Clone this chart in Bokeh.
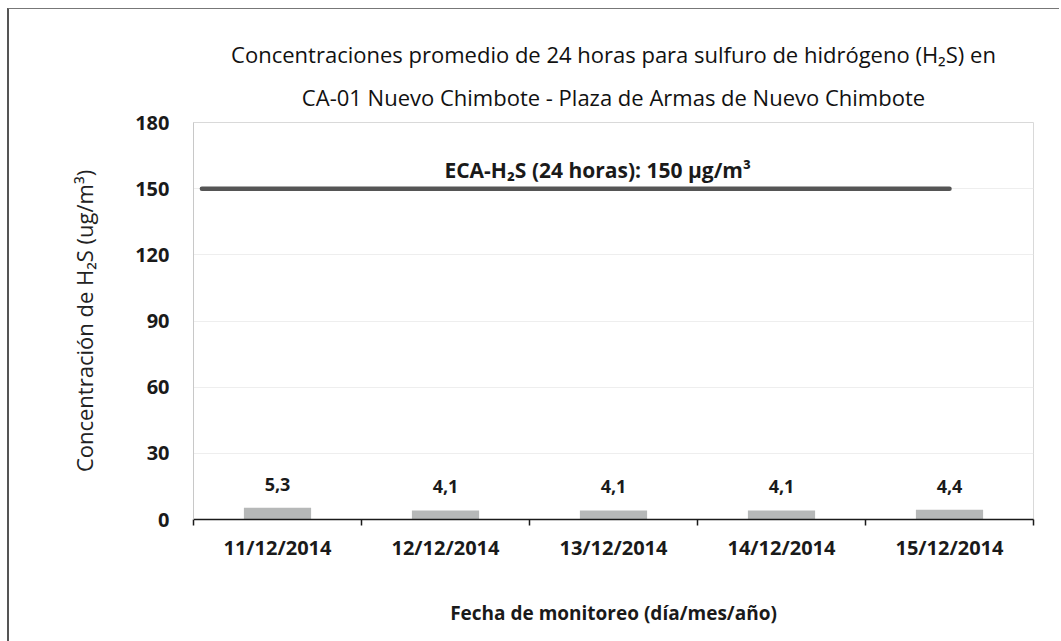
from bokeh.plotting import figure
from bokeh.models import (Range1d, LinearAxis, FixedTicker, Title, ColumnDataSource,
                          LabelSet, Label)
from bokeh.core.properties import value
from bokeh.embed import file_html
from bokeh.resources import INLINE

fechas = ["11/12/2014", "12/12/2014", "13/12/2014", "14/12/2014", "15/12/2014"]
concentracion = [5.3, 4.1, 4.1, 4.1, 4.4]
etiquetas = ["5,3", "4,1", "4,1", "4,1", "4,4"]
eca_valor = 150
eca_texto = "ECA-H₂S (24 horas): 150 µg/m³"
y_ticks = [0, 30, 60, 90, 120, 150, 180]
titulo = ["Concentraciones promedio de 24 horas para sulfuro de hidrógeno (H₂S) en",
          "CA-01 Nuevo Chimbote - Plaza de Armas de Nuevo Chimbote"]

FONT = "Open Sans"
n = len(fechas)
centros = [i + 0.5 for i in range(n)]
limites = list(range(n + 1))

p = figure(width=1052, height=633, x_range=Range1d(0, n), y_range=Range1d(0, y_ticks[-1]),
           output_backend="svg", toolbar_location=None, x_axis_location=None,
           y_axis_location=None,
           min_border_left=184, min_border_right=28, min_border_top=113, min_border_bottom=123)
p.styles = {"margin-left": "7px", "margin-top": "8px",
            "border-left": "2px solid #555555", "border-top": "1px solid #777777"}
p.background_fill_color = "white"
p.outline_line_color = "#d9d9d9"

# y axis
yax = LinearAxis(ticker=FixedTicker(ticks=y_ticks))
yax.axis_label = "Concentración de H₂S (ug/m³)"
yax.axis_label_text_font = FONT
yax.axis_label_text_font_size = "22px"
yax.axis_label_text_font_style = "normal"
yax.axis_label_text_color = "#222222"
yax.axis_label_standoff = 33
yax.major_label_text_font = FONT
yax.major_label_text_font_size = "20px"
yax.major_label_text_font_style = "bold"
yax.major_label_text_color = "#1a1a1a"
yax.major_label_standoff = 18
yax.axis_line_color = "#c8c8c8"
yax.major_tick_line_color = None
yax.minor_tick_line_color = None
p.add_layout(yax, "left")

# x axis: labels at category centres, ticks at boundaries
xax = LinearAxis(ticker=FixedTicker(ticks=centros, minor_ticks=limites),
                 major_label_overrides={c: f for c, f in zip(centros, fechas)})
xax.axis_line_color = "#1a1a1a"
xax.axis_line_width = 1.5
xax.major_tick_line_color = None
xax.minor_tick_line_color = "#1a1a1a"
xax.minor_tick_line_width = 1.5
xax.minor_tick_out = 6
xax.minor_tick_in = 0
xax.major_tick_out = 6
xax.major_tick_in = 0
xax.major_label_text_font = FONT
xax.major_label_text_font_size = "20px"
xax.major_label_text_font_style = "bold"
xax.major_label_text_color = "#1a1a1a"
xax.major_label_standoff = 8
xax.axis_label = "Fecha de monitoreo (día/mes/año)"
xax.axis_label_text_font = FONT
xax.axis_label_text_font_size = "19px"
xax.axis_label_text_font_style = "bold"
xax.axis_label_text_color = "#1a1a1a"
xax.axis_label_standoff = 36
p.add_layout(xax, "below")

p.xgrid.grid_line_color = None
p.ygrid.grid_line_color = "#eeeeee"
p.ygrid.ticker = FixedTicker(ticks=y_ticks)

# title: two centred lines (second line nearest the plot area)
t2 = Title(text=titulo[1], align="center", text_font=FONT, text_font_size="22px",
           text_font_style="normal", text_color="#111111", standoff=22)
t1 = Title(text=titulo[0], align="center", text_font=FONT, text_font_size="22px",
           text_font_style="normal", text_color="#111111", standoff=0)
p.add_layout(t2, "above")
p.add_layout(t1, "above")

src = ColumnDataSource(dict(x=centros, y=concentracion, lab=etiquetas))
p.vbar(x="x", top="y", bottom=0, width=0.4, source=src, fill_color="#b6b8b8", line_color=None)
p.add_layout(LabelSet(x="x", y="y", text="lab", source=src, text_align="center", y_offset=17,
                      text_font=value(FONT), text_font_size="18px", text_font_style="bold",
                      text_color="#1a1a1a"))

# ECA reference line
p.line(x=[0.05, centros[-1]], y=[eca_valor, eca_valor],
       line_color="#555555", line_width=4.5, line_cap="round")
p.add_layout(Label(x=(0.05 + centros[-1]) / 2, y=eca_valor, x_offset=22,
                   text=eca_texto, text_align="center", y_offset=5, text_font=FONT,
                   text_font_size="21px", text_font_style="bold", text_color="#1a1a1a"))

open("out.html", "w").write(file_html(p, INLINE))
